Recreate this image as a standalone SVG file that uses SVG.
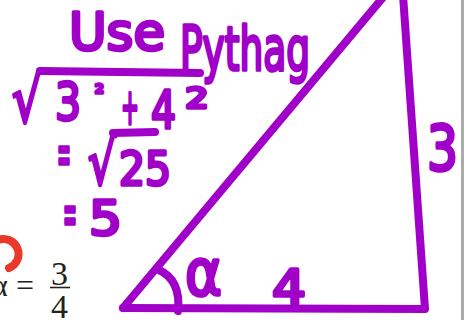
<svg xmlns="http://www.w3.org/2000/svg" width="469" height="320" viewBox="0 0 469 320">
<style>
.hw{font-family:"DejaVu Sans",sans-serif;fill:#a000c8;stroke:#a000c8;stroke-width:3.5;stroke-linejoin:round;stroke-linecap:round}
.ln{fill:none;stroke:#a000c8;stroke-width:8;stroke-linecap:round;stroke-linejoin:round}
.sf{font-family:"Liberation Serif",serif;fill:#222}
</style>
<rect width="469" height="320" fill="#fff"/>
<rect x="461" y="0" width="3" height="320" fill="#ababab"/>
<g id="triangle">
<path class="ln" d="M123,308 L425,309 L403,-5"/>
<path class="ln" d="M123,308 L385,-5"/>
<path class="ln" stroke-width="7" d="M159,270 Q181,280 178,311"/>
</g>
<g id="labels">
<text class="hw" x="185" y="295" font-size="64" textLength="37" lengthAdjust="spacingAndGlyphs">α</text>
<text class="hw" x="272" y="304" font-size="48" textLength="34" lengthAdjust="spacingAndGlyphs">4</text>
<text class="hw" x="427" y="170" font-size="62" textLength="31" lengthAdjust="spacingAndGlyphs">3</text>
</g>
<g id="working">
<text class="hw" x="69" y="50" font-size="52" textLength="96" lengthAdjust="spacingAndGlyphs">Use</text>
<text class="hw" x="180" y="70" font-size="60" textLength="130" lengthAdjust="spacingAndGlyphs">Pythag</text>
<line class="ln" x1="40" y1="71" x2="200" y2="73"/>
<text class="hw" x="12" y="122" font-size="64" textLength="30" lengthAdjust="spacingAndGlyphs">√</text>
<text class="hw" x="55" y="120" font-size="52" textLength="26" lengthAdjust="spacingAndGlyphs">3</text>
<text class="hw" x="95" y="100" font-size="22">²</text>
<text class="hw" x="121" y="124" font-size="50" textLength="18" lengthAdjust="spacingAndGlyphs">+</text>
<text class="hw" x="151" y="128" font-size="52" textLength="25" lengthAdjust="spacingAndGlyphs">4</text>
<text class="hw" x="185" y="125" font-size="52" textLength="24" lengthAdjust="spacingAndGlyphs">²</text>
<text class="hw" x="57" y="174" font-size="60" textLength="14" lengthAdjust="spacingAndGlyphs">=</text>
<text class="hw" x="88" y="184" font-size="62" textLength="28" lengthAdjust="spacingAndGlyphs">√</text>
<line class="ln" x1="113" y1="133" x2="155" y2="132"/>
<text class="hw" x="119" y="185" font-size="46" textLength="52" lengthAdjust="spacingAndGlyphs">25</text>
<text class="hw" x="63" y="234" font-size="60" textLength="14" lengthAdjust="spacingAndGlyphs">=</text>
<text class="hw" x="89" y="235" font-size="48" textLength="33" lengthAdjust="spacingAndGlyphs">5</text>
</g>
<g id="formula">
<path d="M-2,240 A14,14 0 0 1 9,268" fill="none" stroke="#e8392a" stroke-width="8" stroke-linecap="round"/>
<text class="sf" x="-9" y="296" font-size="32">α</text>
<text class="sf" x="16" y="296" font-size="32">=</text>
<text class="sf" x="51" y="285" font-size="34">3</text>
<line x1="50" y1="287.5" x2="70" y2="287.5" stroke="#222" stroke-width="1.6"/>
<text class="sf" x="51" y="318" font-size="34">4</text>
</g>
</svg>
